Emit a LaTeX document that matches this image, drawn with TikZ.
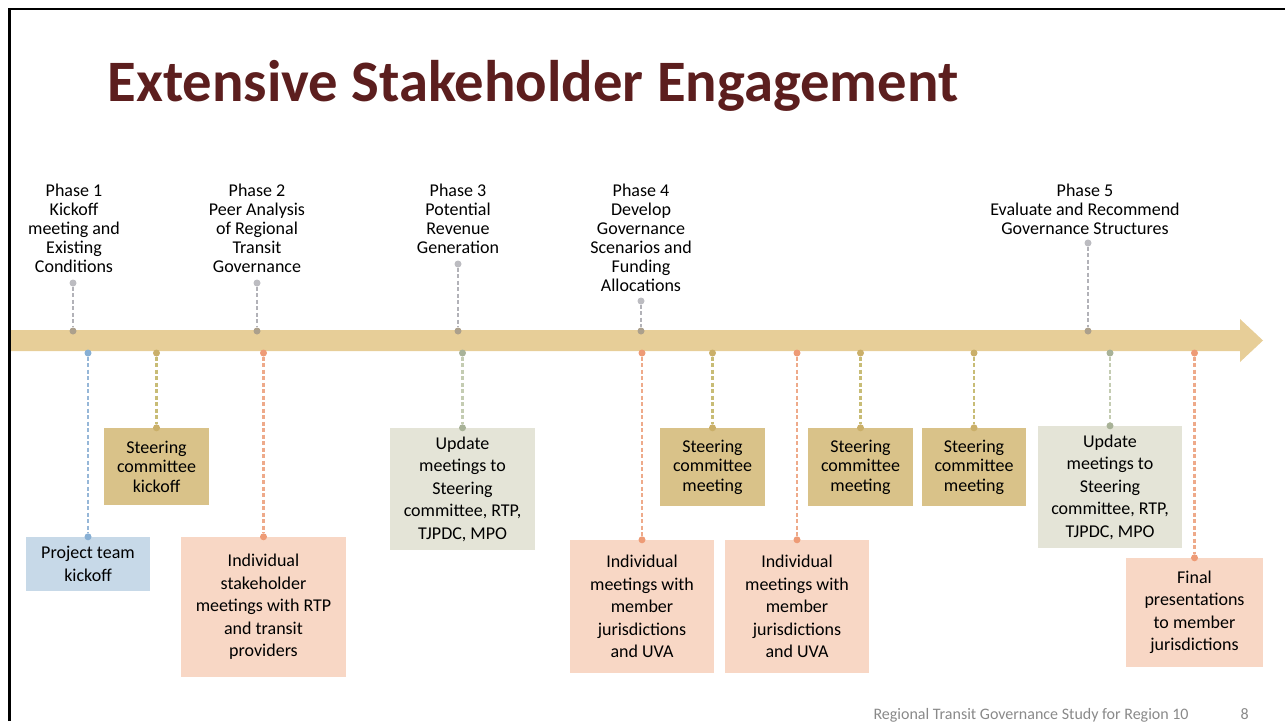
\documentclass[tikz,border=0pt]{standalone}
\usepackage{fontspec}
\setmainfont{Carlito}
\usetikzlibrary{positioning}

\definecolor{bandtan}{RGB}{231,206,152}
\definecolor{titlered}{RGB}{92,30,30}
\definecolor{footgray}{RGB}{137,137,137}
% box fills, dashed leaders and end dots for each kind of event
\definecolor{bluebox}{RGB}{199,217,232}
\definecolor{blueline}{RGB}{150,183,216}
\definecolor{bluedot}{RGB}{135,175,212}
\definecolor{goldbox}{RGB}{217,194,137}
\definecolor{goldline}{RGB}{200,188,118}
\definecolor{golddot}{RGB}{202,175,105}
\definecolor{pinkbox}{RGB}{248,215,197}
\definecolor{pinkline}{RGB}{238,170,138}
\definecolor{pinkdot}{RGB}{238,155,118}
\definecolor{sagebox}{RGB}{228,228,215}
\definecolor{sageline}{RGB}{196,204,178}
\definecolor{sagedot}{RGB}{168,178,152}
\definecolor{grayline}{RGB}{178,178,184}
\definecolor{graydot}{RGB}{188,188,193}
\definecolor{banddot}{RGB}{172,160,140}

\tikzset{
  phase/.style={anchor=north,inner sep=0pt,align=center,
    font=\fontsize{18}{19}\selectfont},
  event/.style={fill=#1box,inner sep=0pt,align=center,
    font=\fontsize{18}{22.5}\selectfont},
  meeting/.style={event=gold,font=\fontsize{18}{19.5}\selectfont},
  link/.style={draw=#1line,line width=2.2pt,dash pattern=on 4pt off 2.5pt},
  dot/.style={circle,fill=#1dot,inner sep=0pt,minimum size=7pt},
}

\begin{document}
\begin{tikzpicture}[x=1pt,y=-1pt]
  \useasboundingbox (0,0) rectangle (1285,721);

  \node[anchor=base west,text=titlered,font=\fontsize{58.7}{60}\selectfont\bfseries]
    (title) at (104,101) {Extensive Stakeholder Engagement};

  % timeline arrow
  \fill[bandtan] (10,330) -- (1240,330) -- (1240,319) -- (1263,340.5)
    -- (1240,362) -- (1240,351) -- (10,351) -- cycle;
  \coordinate (band) at (0,353);

  % phases above the line
  \node[phase] (ph1) at (74,184) {Phase 1\\Kickoff\\meeting and\\Existing\\Conditions};
  \node[phase] (ph2) at (257,184) {Phase 2\\Peer Analysis\\of Regional\\Transit\\Governance};
  \node[phase] (ph3) at (458,184) {Phase 3\\Potential\\Revenue\\Generation};
  \node[phase] (ph4) at (641,184) {Phase 4\\Develop\\Governance\\Scenarios and\\Funding\\Allocations};
  \node[phase] (ph5) at (1085,184) {Phase 5\\Evaluate and Recommend\\Governance Structures};

  \foreach \p/\x/\y in {1/73/283,2/257/283,3/458/264,4/641/301,5/1088/243}{
    \node[dot=gray] (ph\p-t) at (\x,\y) {};
    \node[dot=band] (ph\p-b) at (\x,331) {};
    \draw[link=gray] (ph\p-t) -- (ph\p-b);
  }

  % events below the line
  \node[event=blue,minimum width=124pt,minimum height=54pt] (team) at (88,564)
    {Project team\\kickoff};
  \node[meeting,minimum width=105pt,minimum height=77pt] (sck) at (156.5,466.5)
    {Steering\\committee\\kickoff};
  \node[event=pink,minimum width=165pt,minimum height=140pt] (stk) at (263.5,607)
    {Individual\\stakeholder\\meetings with RTP\\and transit\\providers};
  \node[event=sage,minimum width=145pt,minimum height=122pt] (up1) at (462.5,489)
    {Update\\meetings to\\Steering\\committee, RTP,\\TJPDC, MPO};
  \node[event=pink,minimum width=144pt,minimum height=133pt] (jur1) at (642,606.5)
    {Individual\\meetings with\\member\\jurisdictions\\and UVA};
  \node[meeting,minimum width=105pt,minimum height=78pt] (scm1) at (712.5,467)
    {Steering\\committee\\meeting};
  \node[event=pink,minimum width=144pt,minimum height=133pt] (jur2) at (797,606.5)
    {Individual\\meetings with\\member\\jurisdictions\\and UVA};
  \node[meeting,minimum width=105pt,minimum height=78pt] (scm2) at (860.5,467)
    {Steering\\committee\\meeting};
  \node[meeting,minimum width=104pt,minimum height=78pt] (scm3) at (974,467)
    {Steering\\committee\\meeting};
  \node[event=sage,minimum width=144pt,minimum height=122pt] (up2) at (1110,487)
    {Update\\meetings to\\Steering\\committee, RTP,\\TJPDC, MPO};
  \node[event=pink,minimum width=137pt,minimum height=109pt] (fin) at (1194.5,612.5)
    {Final\\presentations\\to member\\jurisdictions};

  \foreach \b/\c in {team/blue,sck/gold,stk/pink,up1/sage,jur1/pink,scm1/gold,
                     jur2/pink,scm2/gold,scm3/gold,up2/sage,fin/pink}{
    \node[dot=\c] (\b-t) at (\b.north |- band) {};
    \node[dot=\c] (\b-b) at (\b.north) {};
    \draw[link=\c] (\b-t) -- (\b-b);
  }

  % footer
  \node[anchor=base west,text=footgray,font=\fontsize{16}{18}\selectfont]
    (foot) at (870,719) {Regional Transit Governance Study for Region 10};
  \node[anchor=base west,text=footgray,font=\fontsize{16}{18}\selectfont]
    (page) at (1237,719) {8};

  % slide frame
  \draw[line width=2.5pt] (9.5,721) -- (9.5,9) -- (1285,9);
\end{tikzpicture}
\end{document}
